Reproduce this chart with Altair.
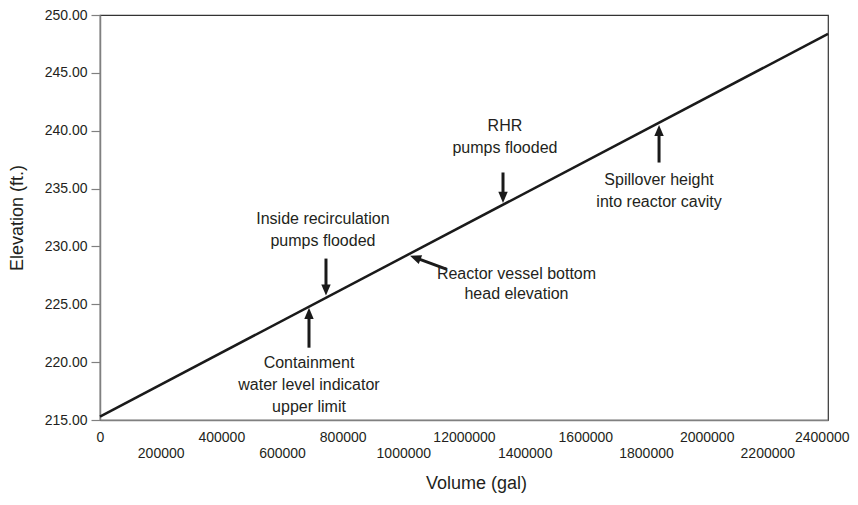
import altair as alt
import pandas as pd

# Main curve: volume (gal) vs elevation (ft.)
line_volume = [0, 2400000]
line_elev = [215.3, 248.37]

# Axis ticks
x_ticks = [0, 200000, 400000, 600000, 800000, 1000000, 1200000, 1400000,
           1600000, 1800000, 2000000, 2200000, 2400000]
y_ticks = [215, 220, 225, 230, 235, 240, 245, 250]

# Annotation text lines (text, volume, elevation)
ann_text = ["Containment", "water level indicator", "upper limit",
            "Inside recirculation", "pumps flooded",
            "Reactor vessel bottom", "head elevation",
            "RHR", "pumps flooded",
            "Spillover height", "into reactor cavity"]
ann_x = [689000, 689000, 689000,
         735000, 735000,
         1373000, 1373000,
         1335000, 1335000,
         1843000, 1843000]
ann_y = [219.96, 218.0, 216.11,
         232.37, 230.49,
         227.66, 225.87,
         240.41, 238.53,
         235.71, 233.83]

# Arrows (tail -> tip), with head angle (0 = up, clockwise)
arrow_tail_x = [689000, 745000, 1144000, 1328600, 1843000]
arrow_tail_y = [221.25, 228.95, 228.01, 236.39, 237.25]
arrow_tip_x = [689000, 745000, 1022000, 1328600, 1843000]
arrow_tip_y = [224.7, 225.75, 229.2, 233.75, 240.5]
arrow_angle = [0, 180, 291, 180, 0]

FONT = "Liberation Sans"

line_df = pd.DataFrame({"volume": line_volume, "elev": line_elev})
text_df = pd.DataFrame({"text": ann_text, "x": ann_x, "y": ann_y})
arrow_df = pd.DataFrame({"tx": arrow_tail_x, "ty": arrow_tail_y,
                         "hx": arrow_tip_x, "hy": arrow_tip_y,
                         "angle": arrow_angle})

x_scale = alt.Scale(domain=[0, 2400000], nice=False, zero=False)
y_scale = alt.Scale(domain=[215, 250], nice=False, zero=False)

label_expr = ("datum.value == 1200000 ? '12000000' : "
              "(datum.value % 400000 == 0 ? datum.label : ['', datum.label])")

x_axis = alt.Axis(values=x_ticks, format="d", labelExpr=label_expr,
                  labelLineHeight=16, labelPadding=10, ticks=False,
                  labelAlign={"condition": {"test": "datum.value == 2400000", "value": "right"},
                              "value": "center"},
                  labelOffset={"condition": {"test": "datum.value == 2400000", "value": 21},
                               "value": 0},
                  title="Volume (gal)", titleFontSize=18, titleFontWeight="normal",
                  titlePadding=14, titleX=376, labelFontSize=14, labelFont=FONT,
                  titleFont=FONT, labelColor="#231f20", titleColor="#231f20",
                  domainColor="#808080", domainWidth=1.5, grid=False,
                  labelOverlap=False, labelFlush=False)
y_axis = alt.Axis(values=y_ticks, format=".2f", tickSize=9, tickColor="#808080",
                  tickWidth=1.2, labelPadding=4, title="Elevation (ft.)",
                  titleFontSize=18, titleFontWeight="normal", titlePadding=18,
                  labelFontSize=14, labelFont=FONT, titleFont=FONT,
                  labelColor="#231f20", titleColor="#231f20",
                  domainColor="#808080", domainWidth=1.5, grid=False)

line = alt.Chart(line_df).mark_line(color="#1a1a1a", strokeWidth=2.5).encode(
    x=alt.X("volume:Q", scale=x_scale, axis=x_axis),
    y=alt.Y("elev:Q", scale=y_scale, axis=y_axis),
)

shafts = alt.Chart(arrow_df).transform_calculate(
    ex="datum.hx - (datum.hx - datum.tx) * 0.25",
    ey="datum.hy - (datum.hy - datum.ty) * 0.25",
).mark_rule(color="#1a1a1a", strokeWidth=3).encode(
    x=alt.X("tx:Q", scale=x_scale), y=alt.Y("ty:Q", scale=y_scale),
    x2="ex:Q", y2="ey:Q",
)

heads = alt.Chart(arrow_df).mark_point(
    shape="M0,0 L-0.42,1 L0.42,1 Z", filled=True, color="#1a1a1a",
    size=500, opacity=1, strokeWidth=0,
).encode(
    x=alt.X("hx:Q", scale=x_scale), y=alt.Y("hy:Q", scale=y_scale),
    angle=alt.Angle("angle:Q", scale=None),
)

texts = alt.Chart(text_df).mark_text(
    font=FONT, fontSize=16, color="#231f20", align="center", baseline="middle"
).encode(
    x=alt.X("x:Q", scale=x_scale), y=alt.Y("y:Q", scale=y_scale), text="text:N",
)

chart = alt.layer(line, shafts, heads, texts).properties(
    width=728, height=405,
    autosize=alt.AutoSizeParams(type="none"),
    padding={"left": 92, "top": 7, "right": 22, "bottom": 77},
).configure_view(stroke="#333333", strokeWidth=1.2)

chart.save("out.html", embed_options={"renderer": "svg", "actions": False})
